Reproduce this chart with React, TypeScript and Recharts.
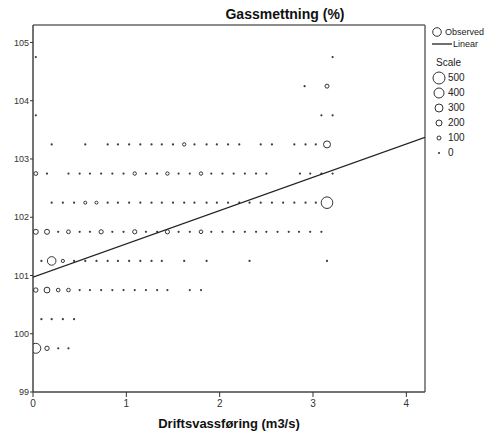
import React from "react";
import {
  ScatterChart,
  Scatter,
  XAxis,
  YAxis,
  ReferenceLine,
} from "recharts";

// each row: [driftsvassføring, count]
const row10475: [number, number][] = [[0.03, 10], [3.21, 10]];
const row10425: [number, number][] = [[2.91, 10], [3.15, 100]];
const row10375: [number, number][] = [[0.03, 10], [3.09, 10], [3.21, 10]];
const row10325: [number, number][] = [
  [0.2, 10], [0.56, 10], [0.8, 10], [0.91, 10], [1.03, 10], [1.15, 10], [1.27, 10],
  [1.38, 10], [1.5, 10], [1.62, 70], [1.73, 10], [1.86, 10], [1.97, 10], [2.09, 10],
  [2.21, 10], [2.44, 10], [2.56, 10], [2.8, 10], [2.92, 10], [3.03, 10], [3.15, 250],
];
const row10275: [number, number][] = [
  [0.03, 90], [0.15, 10], [0.38, 10], [0.5, 10], [0.61, 10], [0.73, 10], [0.85, 10],
  [0.97, 10], [1.09, 70], [1.21, 10], [1.33, 10], [1.44, 70], [1.56, 10], [1.68, 10],
  [1.8, 70], [1.91, 10], [2.03, 10], [2.15, 10], [2.27, 10], [2.39, 10], [2.5, 10],
  [2.86, 10], [2.97, 10], [3.09, 10], [3.21, 10],
];
const row10225: [number, number][] = [
  [0.2, 10], [0.32, 10], [0.44, 10], [0.56, 50], [0.68, 50], [0.8, 10], [0.91, 10],
  [1.03, 10], [1.15, 10], [1.27, 10], [1.38, 10], [1.5, 10], [1.62, 10], [1.73, 10],
  [1.86, 10], [1.97, 10], [2.09, 10], [2.21, 10], [2.32, 10], [2.44, 10], [2.56, 10],
  [2.68, 10], [2.8, 10], [2.92, 10], [3.03, 10], [3.15, 480],
];
const row10175: [number, number][] = [
  [0.03, 150], [0.15, 150], [0.27, 10], [0.38, 90], [0.5, 10], [0.61, 10], [0.73, 110],
  [0.85, 10], [0.97, 10], [1.09, 110], [1.21, 10], [1.33, 10], [1.44, 110], [1.56, 10],
  [1.68, 10], [1.8, 80], [1.91, 10], [2.03, 10], [2.15, 10], [2.27, 10], [2.39, 10],
  [2.5, 10], [2.62, 10], [2.74, 10], [2.85, 10], [2.97, 10], [3.09, 10],
];
const row10125: [number, number][] = [
  [0.09, 10], [0.2, 330], [0.32, 60], [0.44, 10], [0.56, 10], [0.68, 10], [0.8, 10],
  [0.91, 10], [1.03, 10], [1.15, 10], [1.27, 10], [1.38, 10], [1.62, 10], [1.86, 10],
  [2.32, 10], [3.15, 10],
];
const row10075: [number, number][] = [
  [0.03, 120], [0.15, 190], [0.27, 80], [0.38, 80], [0.5, 10], [0.61, 10], [0.73, 10],
  [0.85, 10], [0.97, 10], [1.09, 10], [1.21, 10], [1.33, 10], [1.44, 10], [1.68, 10],
  [1.8, 10],
];
const row10025: [number, number][] = [[0.09, 10], [0.2, 10], [0.32, 10], [0.44, 10]];
const row9975: [number, number][] = [[0.03, 400], [0.15, 120], [0.27, 10], [0.38, 10]];

const rows: [number, [number, number][]][] = [
  [104.75, row10475], [104.25, row10425], [103.75, row10375], [103.25, row10325],
  [102.75, row10275], [102.25, row10225], [101.75, row10175], [101.25, row10125],
  [100.75, row10075], [100.25, row10025], [99.75, row9975],
];

// linear fit, end points
const fitX = [0, 4.2];
const fitY = [100.97, 103.37];

const xTicks = [0, 1, 2, 3, 4];
const yTicks = [99, 100, 101, 102, 103, 104, 105];
const xMax = 4.2;
const yMin = 99;
const yMax = 105.3;
const legendScale = [500, 400, 300, 200, 100, 0];

const observed = rows.flatMap(([y, pts]) => pts.map(([x, n]) => ({ x, y, n })));
const fitData = fitX.map((x, i) => ({ x, y: fitY[i] }));

const FONT = "Arial, 'Liberation Sans', sans-serif";

const radiusOf = (n: number) => 1 + n / 100;

const Marker = (props: any) => {
  const { cx, cy, payload } = props;
  if (cx == null || cy == null) return <g />;
  if (payload.n < 40) return <circle cx={cx} cy={cy} r={1.1} fill="#3a3a3a" />;
  return (
    <circle cx={cx} cy={cy} r={radiusOf(payload.n)} fill="none" stroke="#333" strokeWidth={1} />
  );
};

export default function App() {
  return (
    <div
      style={{
        position: "absolute",
        left: 0,
        top: 0,
        width: 498,
        height: 437,
        background: "#fff",
        fontFamily: FONT,
      }}
    >
      <ScatterChart
        width={498}
        height={437}
        margin={{ top: 25, right: 73, bottom: 0, left: 0 }}
      >
        <XAxis
          type="number"
          dataKey="x"
          domain={[0, xMax]}
          ticks={xTicks}
          allowDataOverflow
          height={45}
          tickSize={5}
          tickMargin={3}
          stroke="#333"
          tick={{ fontSize: 10, fill: "#333", fontFamily: FONT }}
          axisLine={{ stroke: "#444", strokeWidth: 1.5 }}
        />
        <YAxis
          type="number"
          dataKey="y"
          domain={[yMin, yMax]}
          ticks={yTicks}
          allowDataOverflow
          width={33}
          tickSize={3}
          tickMargin={1}
          stroke="#333"
          tick={{ fontSize: 9, fill: "#333", fontFamily: FONT }}
          axisLine={{ stroke: "#444", strokeWidth: 1.5 }}
        />
        <ReferenceLine y={yMax} stroke="#666" strokeWidth={1.5} />
        <ReferenceLine x={xMax} stroke="#666" strokeWidth={1.5} />
        <Scatter data={observed} shape={Marker} isAnimationActive={false} />
        <Scatter
          data={fitData}
          line={{ stroke: "#222", strokeWidth: 1.3 }}
          shape={() => <g />}
          isAnimationActive={false}
        />
      </ScatterChart>

      <div
        style={{
          position: "absolute",
          left: 185,
          width: 200,
          top: 6,
          textAlign: "center",
          fontWeight: "bold",
          fontSize: 14,
          color: "#111",
        }}
      >
        Gassmettning (%)
      </div>
      <div
        style={{
          position: "absolute",
          left: 79,
          width: 300,
          top: 416,
          textAlign: "center",
          fontWeight: "bold",
          fontSize: 13,
          color: "#111",
        }}
      >
        Driftsvassføring (m3/s)
      </div>

      <div style={{ position: "absolute", left: 432, top: 26, fontSize: 9, color: "#222" }}>
        <div style={{ display: "flex", alignItems: "center", height: 12 }}>
          <svg width={10} height={10} style={{ marginRight: 3 }}>
            <circle cx={5} cy={5} r={4.3} fill="none" stroke="#333" />
          </svg>
          Observed
        </div>
        <div style={{ display: "flex", alignItems: "center", height: 11 }}>
          <svg width={20} height={4} style={{ marginRight: 1 }}>
            <line x1={0} y1={2} x2={20} y2={2} stroke="#222" strokeWidth={1.3} />
          </svg>
          Linear
        </div>
        <div style={{ fontSize: 10, marginTop: 8, marginLeft: 4, height: 13 }}>Scale</div>
        {legendScale.map((v) => (
          <div key={v} style={{ display: "flex", alignItems: "center", height: 15, fontSize: 10 }}>
            <svg width={14} height={14} style={{ marginRight: 2 }}>
              {v === 0 ? (
                <circle cx={7} cy={7} r={1.1} fill="#3a3a3a" />
              ) : (
                <circle cx={7} cy={7} r={radiusOf(v)} fill="none" stroke="#333" />
              )}
            </svg>
            {v}
          </div>
        ))}
      </div>
    </div>
  );
}
